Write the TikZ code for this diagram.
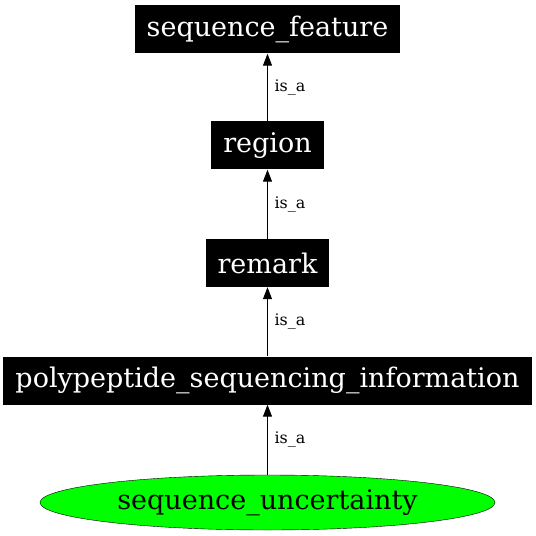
\documentclass[tikz,border=0pt]{standalone}
\usepackage{fontspec}
\setmainfont{DejaVu Serif}
\usetikzlibrary{arrows.meta, shapes.geometric}

\begin{document}
\begin{tikzpicture}[x=1bp, y=-1bp,
    term/.style={fill=black, text=white, inner xsep=12bp, inner ysep=0pt,
                 minimum height=48bp, font=\fontsize{27.1}{30}\selectfont},
    leaf/.style={ellipse, draw=black, fill={rgb,255:red,0;green,255;blue,0},
                 minimum width=455bp, minimum height=55bp, inner sep=0pt,
                 font=\fontsize{27.1}{30}\selectfont},
    isa/.style={-{Triangle[length=12bp, width=9bp]}, line width=1bp},
    elabel/.style={right, inner sep=0pt, xshift=6.5bp, font=\fontsize{16}{18}\selectfont}]
  \useasboundingbox (0,0) rectangle (536,536);
  %%% the chain of terms, top to bottom
  \node[term] (feature)  at (267.5,29.5)  {sequence\_feature};
  \node[term] (region)   at (267.5,145.5) {region};
  \node[term] (remark)   at (267.5,263)   {remark};
  \node[term] (polyinfo) at (267.5,380.5) {polypeptide\_sequencing\_information};
  \node[leaf] (uncert)   at (267.5,502.5) {sequence\_uncertainty};
  %%% is_a edges point up to the parent
  \foreach \lo/\hi in {region/feature, remark/region, polyinfo/remark, uncert/polyinfo}{
    \draw[isa] (\lo) -- node[elabel] {is\_a} (\hi);
  }
\end{tikzpicture}
\end{document}
